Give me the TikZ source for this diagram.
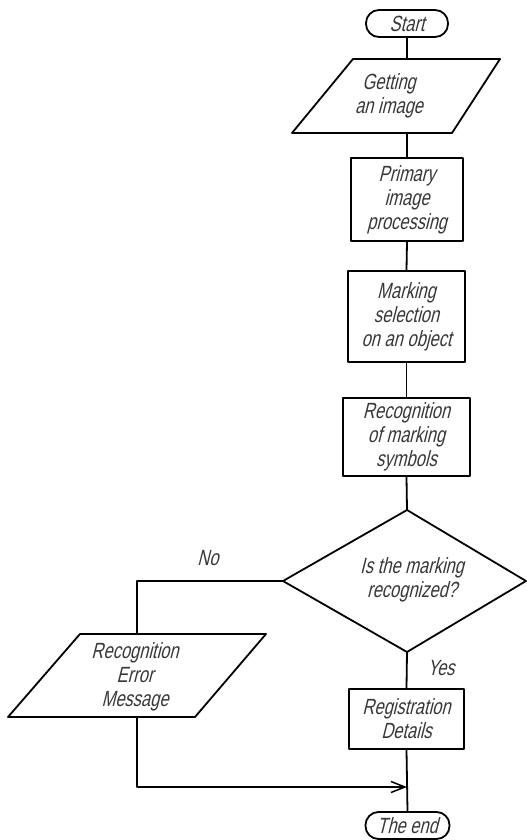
\documentclass[tikz,border=0pt]{standalone}
\usepackage{fontspec}
\setmainfont{Liberation Sans}[FakeStretch=0.75, FakeSlant=0.25]
\usetikzlibrary{arrows.meta}
\begin{document}
\begin{tikzpicture}[x=1pt,y=-1pt, line width=1.8pt, line join=round,
  txt/.style={font=\fontsize{22}{24}\selectfont, text=black!78, align=center, inner sep=0pt},
  proc/.style={txt, draw, rectangle, inner sep=0pt},
  term/.style={txt, draw, rounded corners=13pt, rectangle, inner sep=0pt},
  arr/.style={-{Straight Barb[length=14pt,width=11pt,line width=1.5pt]}}]
\useasboundingbox (0,0) rectangle (527,840);
\fill[white] (0,0) rectangle (527,840);

% Start
\node[term, minimum width=82pt, minimum height=27pt] (start) at (407,23.5) {Start};

% Getting an image (parallelogram)
\draw (353,59) -- (500,59) -- (452,133) -- (292,133) -- cycle;
\node[txt] (get) at (389,96) {Getting\\an image};
\coordinate (get-n) at (407,59);
\coordinate (get-s) at (407,133);

% Process boxes
\node[proc, minimum width=112pt, minimum height=83pt] (prim) at (407,199.5) {Primary\\image\\processing};
\node[proc, minimum width=117pt, minimum height=91pt] (mark) at (406.5,316.5) {Marking\\selection\\on an object};
\node[proc, minimum width=127pt, minimum height=78pt] (recog) at (406.5,437) {Recognition\\of marking\\symbols};

% Decision
\coordinate (dec-n) at (407,510);
\coordinate (dec-e) at (526,581);
\coordinate (dec-s) at (407,652);
\coordinate (dec-w) at (283,581);
\draw (dec-n) -- (dec-e) -- (dec-s) -- (dec-w) -- cycle;
\node[txt] (dec) at (412,580) {Is the marking\\recognized?};

% Error message (parallelogram)
\draw (80,634) -- (266,634) -- (195,717) -- (8,717) -- cycle;
\node[txt] (err) at (135,677) {Recognition\\Error\\Message};
\coordinate (err-n) at (137,634);
\coordinate (err-s) at (137,717);

% Registration
\node[proc, minimum width=115pt, minimum height=60pt] (reg) at (406.5,719) {Registration\\Details};

% End
\node[term, minimum width=84pt, minimum height=27pt] (end) at (407.5,825.5) {The end};
\coordinate (join) at (407,787);

% Connectors
\draw (start.south) -- (get-n);
\draw (get-s) -- (prim.north);
\draw (prim.south) -- (mark.north);
\draw (mark.south) -- (recog.north);
\draw (recog.south) -- (dec-n);
\draw (dec-w) -| (err-n);
\draw (dec-s) -- (reg.north);
\draw (reg.south) -- (end.north);
\draw[arr] (err-s) |- (join);

% Labels
\node[txt] (no) at (208,558) {No};
\node[txt] (yes) at (441,668) {Yes};
\end{tikzpicture}
\end{document}
